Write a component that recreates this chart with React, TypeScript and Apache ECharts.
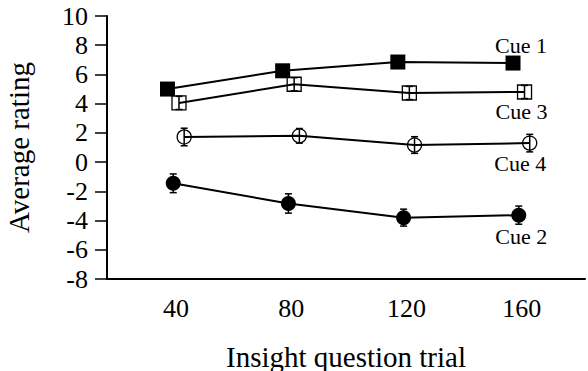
import React, { useEffect, useRef } from "react";
import * as echarts from "echarts";

const trials = [40, 80, 120, 160];
const yTicks = [-8, -6, -4, -2, 0, 2, 4, 6, 8, 10];
const cue1 = [5.0, 6.25, 6.85, 6.78];
const cue3 = [4.05, 5.33, 4.73, 4.8];
const cue4 = [1.72, 1.8, 1.17, 1.3];
const cue2 = [-1.45, -2.83, -3.8, -3.63];
const cue1Err = [0.4, 0.4, 0.4, 0.4];
const cue3Err = [0.45, 0.45, 0.45, 0.45];
const cue4Err = [0.6, 0.5, 0.57, 0.6];
const cue2Err = [0.64, 0.66, 0.58, 0.62];

const FONT = "Liberation Serif";

type Cue = {
  name: string;
  values: number[];
  errs: number[];
  dodge: number;
  symbol: string;
  size: number;
  filled: boolean;
  labelOffset: [number, number];
};

const cues: Cue[] = [
  { name: "Cue 1", values: cue1, errs: cue1Err, dodge: -3, symbol: "rect", size: 15, filled: true, labelOffset: [8, -18] },
  { name: "Cue 3", values: cue3, errs: cue3Err, dodge: 1, symbol: "rect", size: 14, filled: false, labelOffset: [-3, 20] },
  { name: "Cue 4", values: cue4, errs: cue4Err, dodge: 2.8, symbol: "circle", size: 14, filled: false, labelOffset: [-9.5, 20] },
  { name: "Cue 2", values: cue2, errs: cue2Err, dodge: -1, symbol: "circle", size: 15, filled: true, labelOffset: [2.5, 21] },
];

const tickRich = { t: { fontFamily: FONT, fontSize: 26, color: "#000" } };

export default function App() {
  const ref = useRef<HTMLDivElement>(null);
  useEffect(() => {
    if (!ref.current) return;
    const chart = echarts.init(ref.current, undefined, { renderer: "svg" });
    const series: any[] = [];
    cues.forEach((c) => {
      const last = c.values.length - 1;
      series.push({
        type: "line",
        name: c.name,
        data: c.values.map((v, i) => {
          const item: any = { value: [trials[i] + c.dodge, v] };
          if (i === last) {
            item.label = {
              show: true,
              position: "inside",
              offset: c.labelOffset,
              formatter: c.name,
              fontFamily: FONT,
              fontSize: 22,
              color: "#000",
            };
          }
          return item;
        }),
        symbol: c.symbol,
        symbolSize: c.size,
        showSymbol: true,
        lineStyle: { color: "#000", width: 2 },
        itemStyle: {
          color: c.filled ? "#000" : "rgba(0,0,0,0)",
          borderColor: "#000",
          borderWidth: c.filled ? 0 : 1.3,
        },
        z: 3,
      });
      series.push({
        type: "custom",
        name: c.name + " err",
        data: c.values.map((v, i) => [trials[i] + c.dodge, v, c.errs[i]]),
        encode: { x: 0, y: 1 },
        z: 4,
        renderItem: (params: any, api: any) => {
          const x = api.value(0);
          const y = api.value(1);
          const e = api.value(2);
          const top = api.coord([x, y + e]);
          const bot = api.coord([x, y - e]);
          const cap = 3.5;
          const st = { stroke: "#000", lineWidth: 1.5 };
          return {
            type: "group",
            children: [
              { type: "line", shape: { x1: top[0], y1: top[1], x2: bot[0], y2: bot[1] }, style: st },
              { type: "line", shape: { x1: top[0] - cap, y1: top[1], x2: top[0] + cap, y2: top[1] }, style: st },
              { type: "line", shape: { x1: bot[0] - cap, y1: bot[1], x2: bot[0] + cap, y2: bot[1] }, style: st },
            ],
          };
        },
      });
    });
    chart.setOption({
      animation: false,
      backgroundColor: "#fff",
      textStyle: { fontFamily: FONT, color: "#000" },
      grid: { left: 107, right: 3, top: 16, bottom: 92, containLabel: false, outerBoundsMode: "none" },
      xAxis: {
        type: "value",
        min: 16,
        max: 182,
        name: "Insight question trial",
        nameLocation: "middle",
        nameGap: 63,
        nameTextStyle: { fontFamily: FONT, fontSize: 29, color: "#000" },
        axisLine: { show: true, onZero: false, lineStyle: { color: "#000", width: 2 } },
        axisTick: { show: false },
        splitLine: { show: false },
        axisLabel: {
          customValues: trials,
          formatter: (v: number) => `{t|${v}}`,
          rich: tickRich,
          fontFamily: FONT,
          fontSize: 26,
          color: "#000",
          margin: 16,
        },
      },
      yAxis: {
        type: "value",
        min: yTicks[0],
        max: yTicks[yTicks.length - 1],
        interval: 2,
        name: "Average rating",
        nameLocation: "middle",
        nameGap: 74,
        nameTextStyle: { fontFamily: FONT, fontSize: 29, color: "#000" },
        axisLine: { show: true, onZero: false, lineStyle: { color: "#000", width: 2 } },
        axisTick: { show: true, inside: false, length: 12, lineStyle: { color: "#000", width: 1.5 } },
        splitLine: { show: false },
        axisLabel: {
          formatter: (v: number) => `{t|${v}}`,
          rich: tickRich,
          fontFamily: FONT,
          fontSize: 26,
          color: "#000",
          margin: 19,
        },
      },
      series,
    });
    return () => chart.dispose();
  }, []);
  return (
    <div
      ref={ref}
      style={{ position: "fixed", left: 0, top: 0, width: 588, height: 371 }}
    />
  );
}
